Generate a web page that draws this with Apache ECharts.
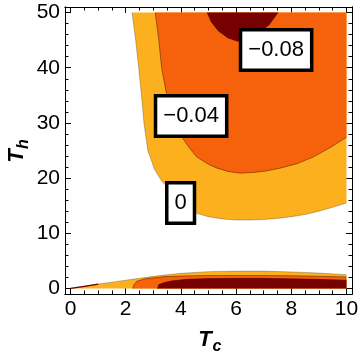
<!DOCTYPE html>
<html>
<head>
<meta charset="utf-8">
<script src="https://cdn.jsdelivr.net/npm/echarts@6/dist/echarts.min.js"></script>
<style>
  html, body { margin: 0; padding: 0; background: #fff; }
  #chart { width: 360px; height: 360px; }
</style>
</head>
<body>
<div id="chart"></div>
<script>
// contour boundaries, as [Tc, Th]
var upperZero = [[2.23, 50], [2.36, 45], [2.47, 40], [2.57, 35], [2.66, 30], [2.8, 25], [3.05, 21.5], [3.3, 19.5], [3.6, 17.8], [3.9, 16.0], [4.2, 14.6], [4.5, 13.7], [5, 13.0], [5.5, 12.6], [6, 12.4], [6.5, 12.4], [7, 12.5], [7.5, 12.7], [8, 13.0], [8.5, 13.4], [9, 14.0], [9.5, 14.7], [10, 15.5]]
var upperMid = [[3.07, 50], [3.2, 45], [3.3, 40], [3.45, 36], [3.6, 32], [3.8, 29.5], [4.04, 27.4], [4.3, 25.5], [4.58, 23.8], [5.0, 22.5], [5.31, 21.8], [5.7, 21.2], [6.14, 20.9], [6.6, 21.0], [7.1, 21.3], [7.59, 21.8], [8.2, 22.6], [8.79, 23.8], [9.4, 25.5], [10, 27.4]]
var upperDeep = [[4.95, 50], [5.1, 48.3], [5.35, 46.7], [5.7, 45.4], [6.05, 44.8], [6.4, 45.1], [6.8, 46.2], [7.2, 47.8], [7.52, 50]]
var lowerZero = [[0, 0], [0.5, 0.4], [1, 0.8], [1.5, 1.15], [2, 1.5], [2.5, 1.85], [3, 2.2], [3.5, 2.5], [4, 2.75], [5, 3.05], [6, 3.15], [7, 3.15], [8, 3.0], [9, 2.8], [10, 2.5]]
var lowerMid = [[2.25, 0], [2.3, 0.7], [2.4, 1.3], [2.7, 1.75], [3.4, 2.15], [4, 2.25], [5, 2.35], [6, 2.35], [7, 2.35], [8, 2.3], [9, 2.2], [10, 2.1]]
var lowerDeep = [[3.15, 0], [3.2, 0.7], [3.4, 1.1], [3.7, 1.4], [4.2, 1.65], [5, 1.8], [6, 1.85], [7, 1.85], [8, 1.75], [9, 1.65], [10, 1.5]]

// contour labels [Tc, Th, text]
var contourLabels = [[7.45, 43.2, '\u22120.08'], [4.37, 31.25, '\u22120.04'], [3.99, 15.5, '0']]

// ticks
var xMajor = [0, 2, 4, 6, 8, 10]
var xMinor = [0.5, 1, 1.5, 2.5, 3, 3.5, 4.5, 5, 5.5, 6.5, 7, 7.5, 8.5, 9, 9.5]
var yMajor = [0, 10, 20, 30, 40, 50]
var yMinor = [2, 4, 6, 8, 12, 14, 16, 18, 22, 24, 26, 28, 32, 34, 36, 38, 42, 44, 46, 48]

var colZero = '#FDB01E'
var colMid = '#F5620B'
var colDeep = '#770000'
var font = 'Liberation Sans'

function axis(kind, pos, ticks, len, labels) {
  var a = {
    type: 'value',
    position: pos,
    min: kind === 'x' ? -0.2 : -1,
    max: kind === 'x' ? 10.2 : 51,
    axisLine: { show: true, onZero: false, lineStyle: { color: '#000', width: 1 } },
    axisTick: { show: true, inside: true, length: len, customValues: ticks, lineStyle: { color: '#000', width: 1 } },
    axisLabel: { show: false },
    splitLine: { show: false }
  }
  if (labels) {
    a.axisLabel = { show: true, customValues: ticks, margin: 5, fontSize: 21, fontFamily: font, color: '#000' }
  }
  return a
}

function region(data, fill, line, origin, z) {
  return {
    type: 'line',
    data: data,
    symbol: 'none',
    smooth: false,
    silent: true,
    z: z,
    lineStyle: { color: line, width: 0.8 },
    areaStyle: { color: fill, opacity: 1, origin: origin }
  }
}

var chart = echarts.init(document.getElementById('chart'))
chart.setOption({
  animation: false,
  backgroundColor: '#fff',
  grid: { left: 65, right: 8, top: 7, bottom: 66, outerBoundsMode: 'none' },
  xAxis: [
    axis('x', 'bottom', xMajor, 6, true),
    axis('x', 'bottom', xMinor, 3.5, false),
    axis('x', 'top', xMajor, 6, false),
    axis('x', 'top', xMinor, 3.5, false)
  ],
  yAxis: [
    axis('y', 'left', yMajor, 6, true),
    axis('y', 'left', yMinor, 3.5, false),
    axis('y', 'right', yMajor, 6, false),
    axis('y', 'right', yMinor, 3.5, false)
  ],
  graphic: [
    { type: 'text', x: 205, y: 340, style: { text: 'T', font: 'italic bold 22px "Liberation Sans"', fill: '#000', align: 'center', verticalAlign: 'middle' } },
    { type: 'text', x: 217, y: 347, style: { text: 'c', font: 'italic bold 16px "Liberation Sans"', fill: '#000', align: 'center', verticalAlign: 'middle' } },
    { type: 'text', x: 17, y: 156, rotation: Math.PI / 2, style: { text: 'T', font: 'italic bold 22px "Liberation Sans"', fill: '#000', align: 'center', verticalAlign: 'middle' } },
    { type: 'text', x: 24, y: 144, rotation: Math.PI / 2, style: { text: 'h', font: 'italic bold 16px "Liberation Sans"', fill: '#000', align: 'center', verticalAlign: 'middle' } },
    { type: 'text', x: 327, y: 24, style: { text: '(d)', font: '13px "Liberation Sans"', fill: '#222', align: 'center', verticalAlign: 'middle' } }
  ],
  series: [
    region(upperZero, colZero, 'rgba(0,0,0,0.3)', 50, 2),
    region(upperMid, colMid, 'rgba(60,20,0,0.6)', 50, 3),
    region(upperDeep, colDeep, 'rgba(60,0,0,0.6)', 50, 4),
    region(lowerZero, colZero, 'rgba(0,0,0,0.3)', 0, 2),
    region(lowerMid, colMid, 'rgba(60,20,0,0.6)', 0, 3),
    region(lowerDeep, colDeep, 'rgba(60,0,0,0.6)', 0, 4),
    {
      type: 'line',
      data: lowerZero.slice(0, 3),
      symbol: 'none',
      silent: true,
      z: 5,
      lineStyle: { color: colDeep, width: 1.3 }
    },
    {
      type: 'scatter',
      data: contourLabels.map(function (d) { return { value: [d[0], d[1]], name: d[2] } }),
      symbolSize: 1,
      itemStyle: { color: 'transparent', opacity: 1 },
      silent: true,
      z: 10,
      label: {
        show: true,
        position: 'inside',
        formatter: '{b}',
        fontSize: 22,
        fontFamily: font,
        color: '#000',
        backgroundColor: '#fff',
        borderColor: '#000',
        borderWidth: 3.5,
        padding: [8, 6, 7, 6]
      }
    }
  ]
})
</script>
</body>
</html>
